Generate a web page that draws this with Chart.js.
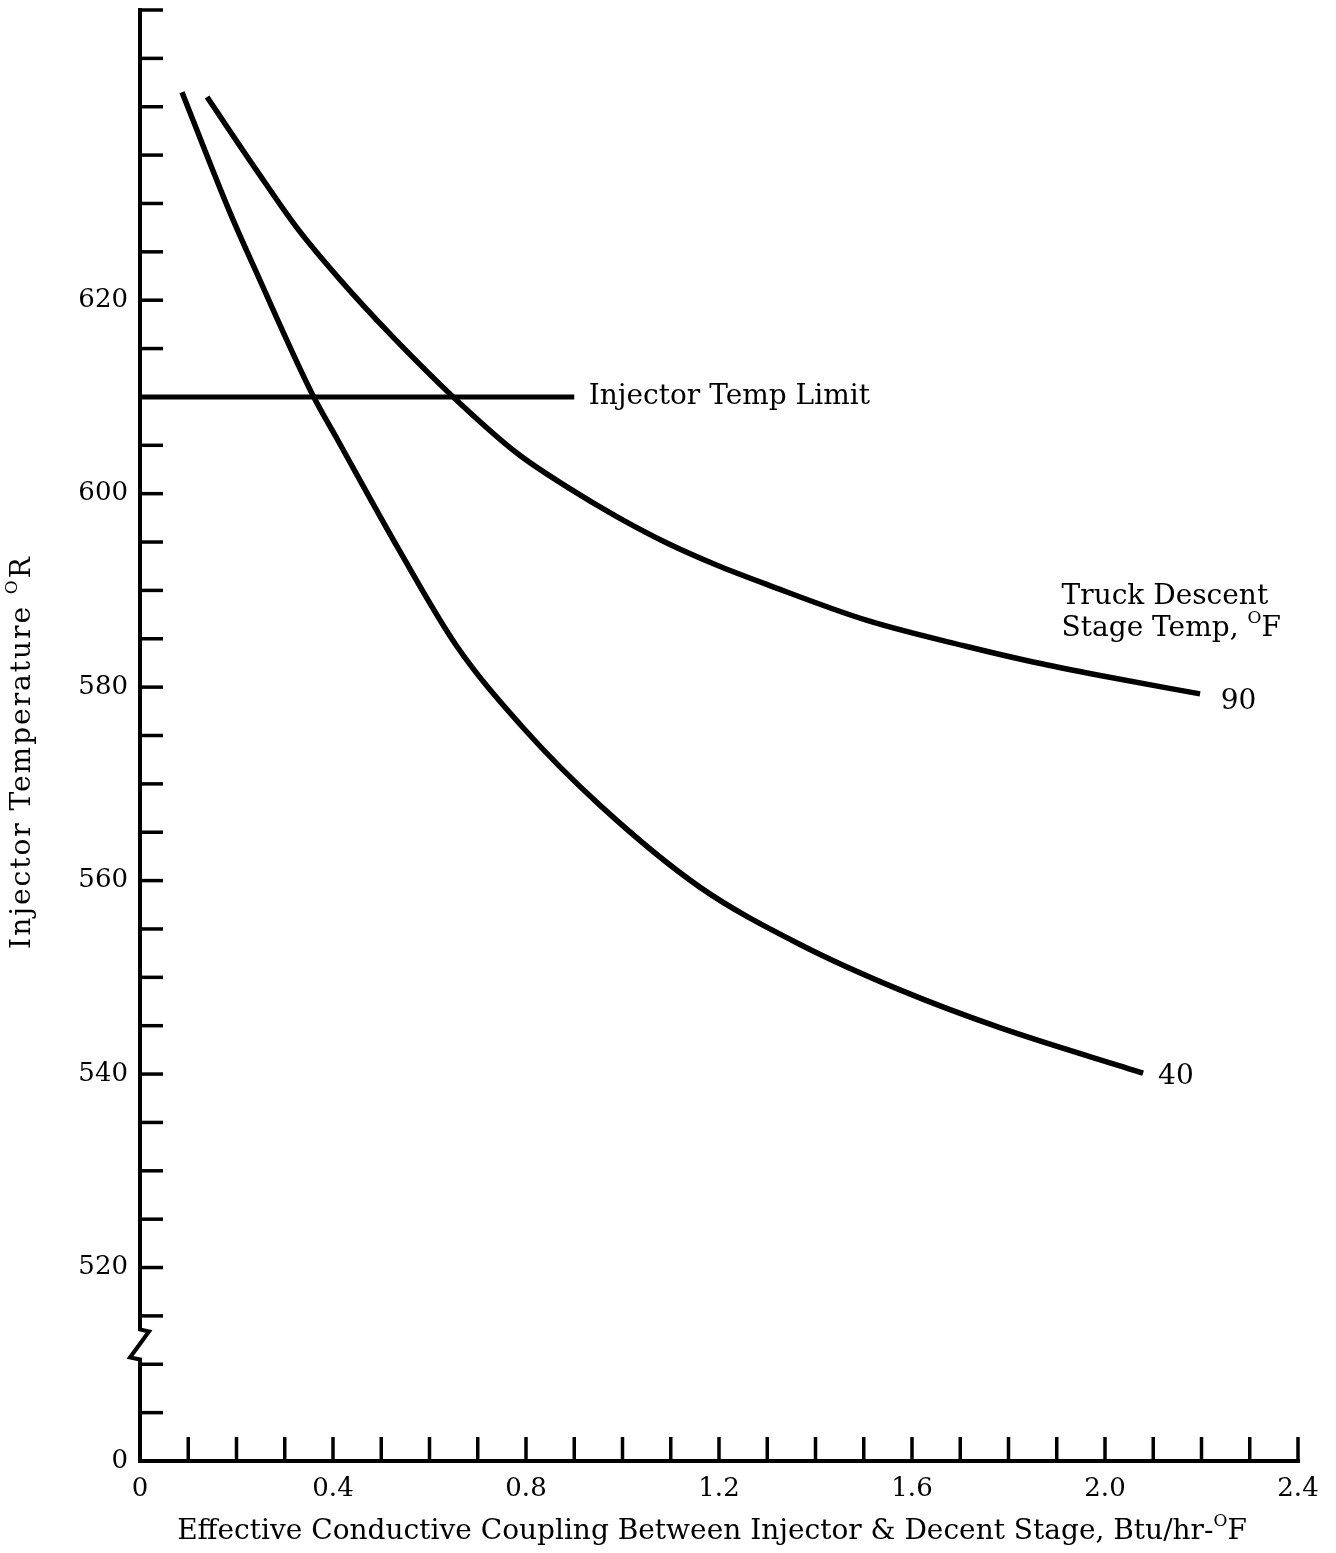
<!DOCTYPE html>
<html>
<head>
<meta charset="utf-8">
<script src="https://cdn.jsdelivr.net/npm/chart.js@4.4.1/dist/chart.umd.min.js"></script>
<style>
  html, body { margin: 0; padding: 0; background: #fff; }
  #wrap { width: 1336px; height: 1553px; position: relative; }
</style>
</head>
<body>
<div id="wrap"><canvas id="myChart"></canvas></div>
<script>
// coupling (Btu/hr-F) vs injector temp (R)
var coupling40 = [0.087, 0.187, 0.242, 0.358, 0.408, 0.539, 0.657, 0.794, 0.953, 1.161, 1.368, 1.575, 1.782, 2.079];
var temp40     = [641.5, 629.0, 622.8, 610.2, 605.7, 594.0, 584.2, 575.8, 567.8, 559.3, 553.4, 548.7, 544.8, 540.1];

var coupling90 = [0.139, 0.242, 0.325, 0.415, 0.524, 0.649, 0.781, 0.885, 0.989, 1.092, 1.196, 1.300, 1.507, 1.714, 1.851, 1.990, 2.197];
var temp90     = [641.0, 633.4, 627.5, 622.1, 616.2, 610.0, 604.2, 600.7, 597.6, 594.9, 592.6, 590.6, 586.9, 584.2, 582.6, 581.2, 579.3];

var limitX = [0, 0.9];
var limitY = [610, 610];

// tick labels (the bottom of the broken axis is labelled 0)
var xLabelValues = [0, 0.4, 0.8, 1.2, 1.6, 2.0, 2.4];
var xLabelText   = ['0', '0.4', '0.8', '1.2', '1.6', '2.0', '2.4'];
var yLabelValues = [500, 520, 540, 560, 580, 600, 620];
var yLabelText   = ['0', '520', '540', '560', '580', '600', '620'];

var FONT = '"DejaVu Serif", "Liberation Serif", serif';
var TXT = 28;

function pts(xs, ys) {
    return xs.map(function (x, i) { return { x: x, y: ys[i] }; });
}

function findLabel(v, vals, txt) {
    for (var i = 0; i < vals.length; i++) {
        if (Math.abs(vals[i] - v) < 1e-6) return txt[i];
    }
    return '';
}

// text with a small raised "O" for degrees, centred on x
function supText(ctx, parts, x, y, size, align) {
    var w = 0;
    parts.forEach(function (p) {
        ctx.font = (p.sup ? Math.round(size * 0.6) : size) + 'px ' + FONT;
        p.w = ctx.measureText(p.t).width;
        w += p.w;
    });
    var cx = align === 'left' ? x : x - w / 2;
    ctx.textAlign = 'left';
    ctx.textBaseline = 'middle';
    parts.forEach(function (p) {
        ctx.font = (p.sup ? Math.round(size * 0.6) : size) + 'px ' + FONT;
        ctx.fillText(p.t, cx, p.sup ? y - size * 0.36 : y);
        cx += p.w;
    });
}

var axesPlugin = {
    id: 'axesPlugin',
    afterDraw: function (chart) {
        var ctx = chart.ctx;
        var xs = chart.scales.x, ys = chart.scales.y;
        var left = xs.getPixelForValue(0);
        var right = xs.getPixelForValue(2.4);
        var top = ys.getPixelForValue(650);
        var bottom = ys.getPixelForValue(500);
        var b1 = ys.getPixelForValue(513.6);
        var b2 = ys.getPixelForValue(510.6);

        ctx.save();
        ctx.strokeStyle = '#000';
        ctx.lineCap = 'square';
        ctx.lineJoin = 'miter';
        ctx.lineWidth = 4;

        // y axis with break, then x axis
        ctx.beginPath();
        ctx.moveTo(left, top);
        ctx.lineTo(left, b1);
        ctx.lineTo(left + 9, b1 + 2);
        ctx.lineTo(left - 10, b2 - 1);
        ctx.lineTo(left, b2 + 1);
        ctx.lineTo(left, bottom);
        ctx.lineTo(right, bottom);
        ctx.stroke();

        // inward ticks
        ctx.lineWidth = 3.5;
        ctx.lineCap = 'butt';
        ys.ticks.forEach(function (t) {
            if (t.value <= 500) return;
            var py = ys.getPixelForValue(t.value);
            ctx.beginPath();
            ctx.moveTo(left, py);
            ctx.lineTo(left + 23, py);
            ctx.stroke();
        });
        xs.ticks.forEach(function (t) {
            if (t.value <= 0) return;
            var px = xs.getPixelForValue(t.value);
            ctx.beginPath();
            ctx.moveTo(px, bottom);
            ctx.lineTo(px, bottom - 24);
            ctx.stroke();
        });

        // annotations
        ctx.fillStyle = '#000';
        ctx.font = TXT + 'px ' + FONT;
        ctx.textAlign = 'left';
        ctx.textBaseline = 'middle';
        ctx.fillText('Injector Temp Limit', xs.getPixelForValue(0.93), ys.getPixelForValue(610));
        ctx.fillText('Truck Descent', xs.getPixelForValue(1.91), ys.getPixelForValue(589.3));
        supText(ctx, [
            { t: 'Stage Temp, ' },
            { t: 'O', sup: true },
            { t: 'F' }
        ], xs.getPixelForValue(1.91), ys.getPixelForValue(586.0), TXT, 'left');
        ctx.font = TXT + 'px ' + FONT;
        ctx.fillText('90', xs.getPixelForValue(2.24), ys.getPixelForValue(578.5));
        ctx.fillText('40', xs.getPixelForValue(2.11), ys.getPixelForValue(539.7));

        // axis titles
        supText(ctx, [
            { t: 'Effective Conductive Coupling Between Injector & Decent Stage, Btu/hr-' },
            { t: 'O', sup: true },
            { t: 'F' }
        ], 712, 1532, TXT);

        ctx.translate(23, 752);
        ctx.rotate(-Math.PI / 2);
        ctx.letterSpacing = '2px';
        supText(ctx, [
            { t: 'Injector Temperature ' },
            { t: 'O', sup: true },
            { t: 'R' }
        ], 0, 0, TXT);
        ctx.letterSpacing = '0px';
        ctx.restore();
    }
};

var ctx = document.getElementById('myChart').getContext('2d');

var myChart = new Chart(ctx, {
    type: 'scatter',
    data: {
        datasets: [{
            label: '40',
            data: pts(coupling40, temp40),
            showLine: true,
            borderColor: '#000',
            borderWidth: 5.5,
            pointRadius: 0,
            cubicInterpolationMode: 'monotone'
        }, {
            label: '90',
            data: pts(coupling90, temp90),
            showLine: true,
            borderColor: '#000',
            borderWidth: 5.5,
            pointRadius: 0,
            cubicInterpolationMode: 'monotone'
        }, {
            label: 'Injector Temp Limit',
            data: pts(limitX, limitY),
            showLine: true,
            borderColor: '#000',
            borderWidth: 5,
            pointRadius: 0
        }]
    },
    options: {
        responsive: true,
        maintainAspectRatio: false,
        animation: false,
        layout: { padding: { top: 10, right: 38, bottom: 0, left: 0 } },
        plugins: {
            legend: { display: false },
            tooltip: { enabled: false }
        },
        scales: {
            x: {
                type: 'linear',
                min: 0,
                max: 2.4,
                grid: { display: false, drawTicks: false },
                border: { display: false },
                ticks: {
                    stepSize: 0.1,
                    autoSkip: false,
                    maxRotation: 0,
                    padding: 13,
                    color: '#000',
                    font: { family: FONT, size: 26 },
                    callback: function (v) { return findLabel(v, xLabelValues, xLabelText); }
                },
                afterFit: function (s) {
                    s.height = 92;
                    s.paddingLeft = 0;
                    s.paddingRight = 0;
                }
            },
            y: {
                type: 'linear',
                min: 500,
                max: 650,
                grid: { display: false, drawTicks: false },
                border: { display: false },
                ticks: {
                    stepSize: 5,
                    autoSkip: false,
                    padding: 12,
                    color: '#000',
                    font: { family: FONT, size: 26 },
                    callback: function (v) { return findLabel(v, yLabelValues, yLabelText); }
                },
                afterFit: function (s) {
                    s.width = 140;
                    s.paddingTop = 0;
                    s.paddingBottom = 0;
                }
            }
        }
    },
    plugins: [axesPlugin]
});
</script>
</body>
</html>
